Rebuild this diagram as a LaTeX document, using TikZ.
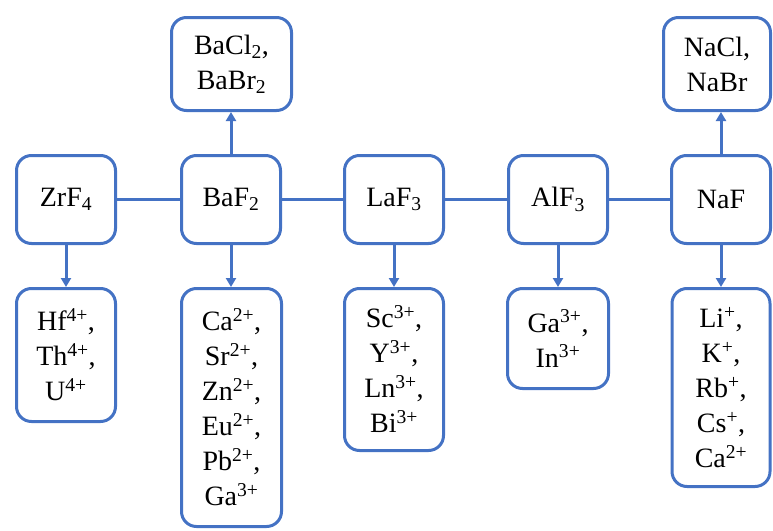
\documentclass[tikz,border=0pt]{standalone}
\usepackage{fontspec}
\setmainfont{Liberation Serif}
\usetikzlibrary{arrows.meta}
\definecolor{boxblue}{RGB}{68,114,196}
\begin{document}
\begin{tikzpicture}[x=1pt,y=-1pt,
  box/.style={draw=boxblue,line width=3pt,rounded corners=15pt,fill=white,
    align=center,inner sep=0pt,font=\fontsize{28}{35}\selectfont,text=black},
  link/.style={draw=boxblue,line width=3pt},
  arr/.style={draw=boxblue,line width=3pt,-{Triangle[length=9pt,width=10pt]}}]
\useasboundingbox (0,0) rectangle (773,530);
% middle row
\node[box,minimum width=99pt,minimum height=88pt] (zr) at (66,199.5) {ZrF\textsubscript{4}};
\node[box,minimum width=99pt,minimum height=88pt] (ba) at (231,199.5) {BaF\textsubscript{2}};
\node[box,minimum width=99pt,minimum height=88pt] (la) at (394,199.5) {LaF\textsubscript{3}};
\node[box,minimum width=99pt,minimum height=88pt] (al) at (558,199.5) {AlF\textsubscript{3}};
\node[box,minimum width=99pt,minimum height=88pt] (na) at (721,199.5) {NaF};
% top row
\node[box,minimum width=120pt,minimum height=93pt] (bacl) at (231.5,64) {BaCl\textsubscript{2},\\BaBr\textsubscript{2}};
\node[box,minimum width=107pt,minimum height=93pt] (nacl) at (717,64) {NaCl,\\NaBr};
% bottom row
\node[box,minimum width=99pt,minimum height=133pt] (zrc) at (66,355) {Hf\textsuperscript{4+},\\Th\textsuperscript{4+},\\U\textsuperscript{4+}};
\node[box,minimum width=100pt,minimum height=238pt] (bac) at (231.5,407.5) {Ca\textsuperscript{2+},\\Sr\textsuperscript{2+},\\Zn\textsuperscript{2+},\\Eu\textsuperscript{2+},\\Pb\textsuperscript{2+},\\Ga\textsuperscript{3+}};
\node[box,minimum width=99pt,minimum height=162pt] (lac) at (394,369.5) {Sc\textsuperscript{3+},\\Y\textsuperscript{3+},\\Ln\textsuperscript{3+},\\Bi\textsuperscript{3+}};
\node[box,minimum width=101pt,minimum height=100pt] (alc) at (558,338.5) {Ga\textsuperscript{3+},\\In\textsuperscript{3+}};
\node[box,minimum width=98pt,minimum height=198pt] (nac) at (721,387.5) {Li\textsuperscript{+},\\K\textsuperscript{+},\\Rb\textsuperscript{+},\\Cs\textsuperscript{+},\\Ca\textsuperscript{2+}};
% horizontal links
\draw[link] (zr) -- (ba);
\draw[link] (ba) -- (la);
\draw[link] (la) -- (al);
\draw[link] (al) -- (na);
% arrows
\draw[arr] (ba.north) -- (bacl.south -| ba.north);
\draw[arr] (na.north) -- (nacl.south -| na.north);
\draw[arr] (zr.south) -- (zrc.north -| zr.south);
\draw[arr] (ba.south) -- (bac.north -| ba.south);
\draw[arr] (la.south) -- (lac.north -| la.south);
\draw[arr] (al.south) -- (alc.north -| al.south);
\draw[arr] (na.south) -- (nac.north -| na.south);
\end{tikzpicture}
\end{document}
